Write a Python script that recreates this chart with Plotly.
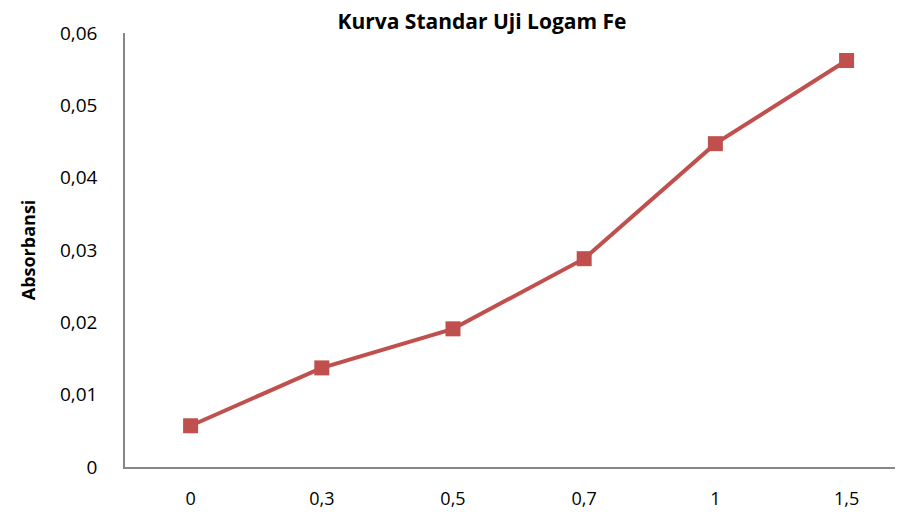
import plotly.graph_objects as go

categories = ["0", "0,3", "0,5", "0,7", "1", "1,5"]
absorbansi = [0.0057, 0.0137, 0.0191, 0.0288, 0.0447, 0.0562]
y_tick_vals = [0, 0.01, 0.02, 0.03, 0.04, 0.05, 0.06]
y_tick_text = ["0", "0,01", "0,02", "0,03", "0,04", "0,05", "0,06"]

FONT = "Open Sans"
# page body has an 8px default margin, so the figure is sized/offset to compensate
W, H = 895, 504

fig = go.Figure()
fig.add_trace(go.Scatter(
    x=list(range(len(categories))), y=absorbansi,
    mode="lines+markers",
    line=dict(color="#C0504D", width=4),
    marker=dict(symbol="square", size=15, color="#C0504D"),
    showlegend=False,
))

fig.update_layout(
    width=W, height=H,
    margin=dict(l=117, r=0, t=25, b=45, autoexpand=False),
    paper_bgcolor="white", plot_bgcolor="white",
    title=dict(text="<b>Kurva Standar Uji Logam Fe</b>", x=474/W, xref="container",
               xanchor="center", y=1 - 14/H, yref="container", yanchor="middle",
               font=dict(family=FONT, size=21, color="#000000")),
    xaxis=dict(
        range=[-0.5, 5.43], automargin=False,
        tickmode="array", tickvals=list(range(len(categories))), ticktext=categories,
        showgrid=False, zeroline=False,
        showline=True, linecolor="#868686", linewidth=1.5,
        ticks="", ticklabelstandoff=15,
        tickfont=dict(family=FONT, size=18, color="#000000"),
    ),
    yaxis=dict(
        range=[0, 0.06], automargin=False,
        tickmode="array", tickvals=y_tick_vals, ticktext=y_tick_text,
        showgrid=False, zeroline=False,
        showline=True, linecolor="#868686", linewidth=1.5,
        ticks="", ticklabelstandoff=22,
        tickfont=dict(family=FONT, size=19, color="#000000"),
        title=dict(text="<b>Absorbansi</b>", standoff=20,
                   font=dict(family=FONT, size=18, color="#000000")),
    ),
)

fig.write_html("out.html")
